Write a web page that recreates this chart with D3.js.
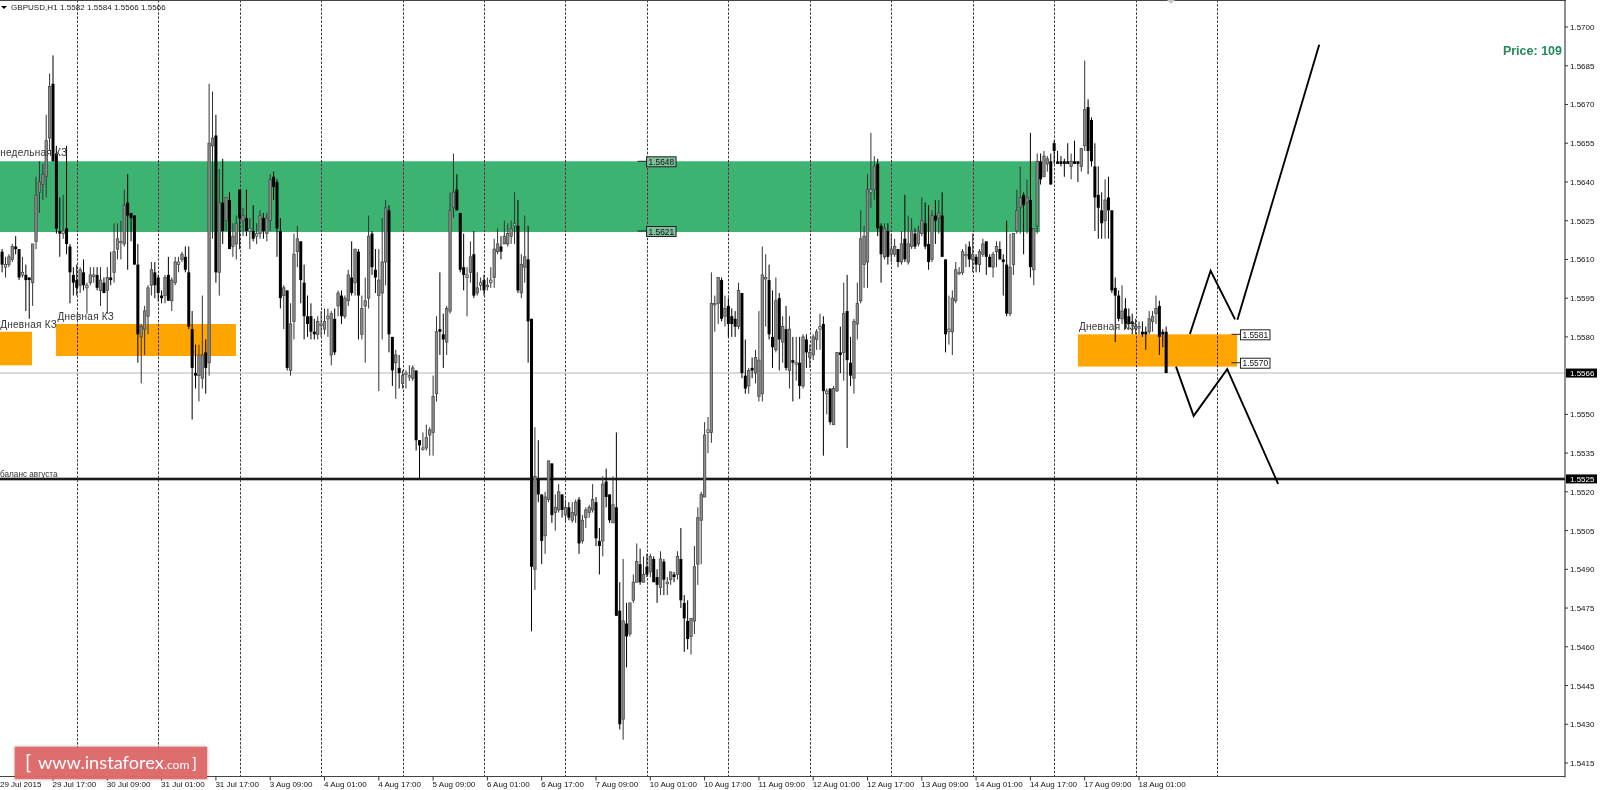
<!DOCTYPE html>
<html><head><meta charset="utf-8">
<script src="https://d3js.org/d3.v7.min.js"></script>
<style>html,body{margin:0;padding:0;background:#fff;overflow:hidden}svg{display:block}text{font-family:"Liberation Sans",Arial,sans-serif}</style>
</head><body><svg id="c" width="1600" height="790"></svg>
<script>
// GBPUSD H1 — rows are [open, high, low, close] in pips (price = 1 + v/10000)
const bars29Jul=[[5612,5613,5608,5611],[5613,5614,5605,5608],[5607,5611,5603,5608],[5608,5612,5607,5611],[5610,5616,5609,5615],[5615,5619,5612,5614],[5614,5614,5602,5603],[5604,5611,5603,5605],[5604,5608,5590,5602],[5603,5603,5587,5602],[5601,5616,5592,5616],[5617,5642,5614,5635],[5636,5648,5628,5640],[5639,5647,5633,5643],[5642,5666,5634,5656],[5657,5682,5652,5677],[5678,5689,5648,5648],[5651,5654,5620,5622],[5621,5634,5611,5620],[5620,5635,5618,5621],[5622,5654,5612,5616],[5615,5616,5593,5605],[5604,5607,5596,5601],[5602,5608,5596,5599]];
const bars30Jul=[[5600,5607,5597,5606],[5605,5610,5598,5600],[5599,5601,5589,5600],[5601,5607,5600,5604],[5604,5607,5601,5604],[5604,5607,5598,5599],[5598,5607,5592,5602],[5601,5603,5597,5597],[5598,5607,5589,5603],[5603,5613,5600,5602],[5605,5624,5601,5613],[5614,5624,5610,5618],[5617,5625,5610,5617],[5616,5637,5615,5631],[5632,5643,5606,5627],[5628,5628,5617,5626],[5627,5627,5608,5608],[5608,5616,5570,5581],[5580,5585,5562,5584],[5583,5592,5573,5590],[5588,5600,5581,5599],[5600,5609,5596,5606],[5605,5609,5595,5600],[5603,5604,5594,5597]];
const bars31Jul=[[5596,5598,5593,5595],[5596,5604,5593,5603],[5604,5611,5594,5594],[5594,5603,5590,5602],[5601,5611,5600,5609],[5608,5611,5605,5609],[5610,5613,5609,5612],[5611,5615,5605,5606],[5605,5615,5583,5584],[5583,5590,5548,5568],[5566,5577,5560,5565],[5565,5577,5555,5573],[5564,5596,5560,5573],[5574,5579,5558,5568],[5570,5678,5565,5655],[5654,5675,5618,5657],[5658,5666,5601,5605],[5605,5645,5596,5632],[5632,5649,5616,5621],[5625,5634,5621,5634],[5633,5636,5614,5614],[5615,5624,5611,5619],[5616,5627,5610,5624],[5637,5637,5614,5626]];
const bars3Aug=[[5625,5630,5619,5627],[5626,5637,5619,5621],[5621,5626,5614,5622],[5621,5631,5617,5618],[5619,5624,5616,5620],[5620,5629,5618,5627],[5626,5628,5618,5621],[5620,5628,5617,5626],[5625,5643,5621,5641],[5642,5644,5633,5638],[5640,5641,5611,5622],[5621,5626,5591,5595],[5596,5600,5583,5599],[5598,5598,5567,5568],[5567,5593,5565,5585],[5586,5620,5579,5612],[5613,5623,5607,5618],[5617,5617,5593,5602],[5601,5608,5579,5588],[5588,5596,5580,5585],[5588,5593,5579,5582],[5582,5587,5579,5581],[5581,5588,5579,5586],[5585,5590,5580,5585]];
const bars4Aug=[[5583,5591,5581,5586],[5587,5591,5580,5588],[5573,5590,5569,5589],[5587,5591,5573,5574],[5592,5598,5588,5597],[5596,5598,5585,5588],[5588,5596,5587,5595],[5594,5606,5592,5604],[5603,5617,5596,5597],[5601,5614,5596,5614],[5613,5614,5579,5596],[5581,5596,5579,5591],[5592,5603,5570,5594],[5595,5627,5591,5619],[5620,5621,5604,5607],[5606,5614,5597,5603],[5596,5614,5559,5602],[5597,5626,5579,5609],[5609,5633,5600,5630],[5629,5631,5574,5581],[5580,5580,5561,5567],[5570,5575,5556,5573],[5568,5573,5560,5566],[5562,5567,5560,5565]];
const bars5Aug=[[5566,5567,5560,5566],[5565,5569,5563,5565],[5564,5569,5563,5568],[5567,5567,5536,5540],[5540,5540,5525,5538],[5537,5543,5536,5537],[5537,5546,5536,5541],[5542,5545,5534,5544],[5543,5565,5534,5557],[5558,5588,5555,5582],[5583,5605,5573,5582],[5581,5589,5568,5579],[5578,5592,5573,5591],[5590,5636,5589,5629],[5630,5651,5626,5636],[5637,5643,5629,5629],[5628,5628,5605,5606],[5607,5620,5598,5604],[5603,5607,5588,5604],[5605,5617,5601,5611],[5612,5621,5595,5596],[5597,5605,5596,5599],[5600,5603,5598,5601],[5602,5604,5596,5598]];
const bars6Aug=[[5600,5603,5598,5600],[5601,5607,5599,5602],[5603,5618,5599,5614],[5613,5622,5612,5616],[5615,5619,5610,5613],[5616,5625,5616,5619],[5616,5624,5615,5620],[5619,5625,5616,5622],[5623,5636,5616,5624],[5623,5633,5597,5598],[5597,5612,5595,5608],[5607,5627,5601,5611],[5610,5623,5570,5586],[5587,5587,5466,5491],[5490,5545,5482,5526],[5525,5540,5516,5519],[5519,5519,5492,5501],[5503,5520,5496,5518],[5517,5532,5516,5532],[5531,5531,5508,5511],[5512,5519,5505,5514],[5513,5523,5512,5520],[5519,5519,5510,5513],[5511,5517,5508,5514]];
const bars7Aug=[[5514,5516,5509,5510],[5509,5516,5508,5512],[5511,5517,5508,5516],[5517,5518,5496,5500],[5501,5511,5500,5509],[5510,5514,5506,5513],[5512,5515,5510,5514],[5513,5523,5512,5517],[5516,5518,5499,5502],[5501,5506,5488,5499],[5501,5526,5495,5523],[5524,5529,5514,5518],[5519,5519,5508,5509],[5508,5526,5508,5515],[5514,5543,5472,5472],[5474,5485,5428,5430],[5432,5494,5424,5470],[5469,5477,5452,5464],[5465,5477,5464,5477],[5478,5488,5477,5485],[5485,5500,5485,5493],[5492,5498,5484,5485],[5485,5495,5485,5488],[5491,5496,5487,5488]];
const bars10Aug=[[5489,5496,5487,5495],[5494,5495,5485,5485],[5487,5490,5477,5484],[5483,5497,5480,5494],[5493,5494,5480,5486],[5485,5487,5480,5485],[5486,5489,5484,5489],[5488,5489,5485,5487],[5488,5497,5486,5495],[5494,5506,5475,5478],[5477,5480,5458,5471],[5470,5478,5459,5463],[5464,5471,5457,5471],[5470,5499,5465,5491],[5492,5514,5484,5510],[5509,5520,5492,5519],[5518,5547,5518,5542],[5543,5549,5535,5544],[5543,5605,5539,5593],[5593,5596,5582,5593],[5593,5603,5585,5603],[5602,5603,5586,5587],[5588,5596,5584,5591],[5592,5595,5580,5585]];
const bars11Aug=[[5588,5591,5580,5585],[5587,5590,5580,5584],[5584,5601,5583,5598],[5597,5597,5564,5566],[5565,5579,5558,5560],[5561,5568,5558,5567],[5568,5572,5564,5567],[5566,5575,5562,5572],[5557,5590,5555,5571],[5558,5615,5555,5604],[5603,5612,5584,5603],[5602,5608,5579,5581],[5580,5598,5568,5576],[5575,5603,5574,5594],[5595,5597,5567,5579],[5578,5588,5570,5584],[5583,5592,5567,5568],[5567,5588,5560,5583],[5571,5580,5555,5570],[5570,5580,5563,5570],[5570,5580,5556,5561],[5561,5581,5560,5580],[5579,5581,5568,5574],[5572,5577,5568,5574]];
const bars12Aug=[[5573,5581,5571,5580],[5579,5583,5575,5582],[5583,5589,5575,5584],[5585,5588,5534,5559],[5558,5560,5550,5559],[5560,5560,5546,5547],[5546,5561,5546,5560],[5559,5574,5559,5574],[5574,5584,5566,5573],[5574,5601,5563,5589],[5590,5604,5537,5571],[5570,5580,5561,5565],[5564,5587,5558,5586],[5585,5601,5579,5593],[5594,5629,5593,5618],[5608,5623,5599,5619],[5609,5643,5599,5637],[5636,5659,5630,5637],[5637,5650,5633,5646],[5647,5649,5619,5622],[5623,5624,5601,5612],[5611,5624,5610,5622],[5621,5624,5608,5611],[5612,5620,5609,5614]];
const bars13Aug=[[5612,5618,5611,5615],[5614,5614,5607,5609],[5609,5621,5608,5616],[5618,5635,5609,5610],[5609,5627,5608,5616],[5615,5626,5614,5621],[5620,5622,5614,5615],[5616,5623,5615,5621],[5620,5634,5619,5625],[5624,5632,5614,5615],[5616,5631,5606,5609],[5610,5629,5609,5627],[5627,5633,5616,5625],[5626,5633,5620,5628],[5627,5636,5611,5611],[5610,5610,5574,5581],[5582,5596,5577,5583],[5582,5598,5573,5595],[5594,5609,5593,5606],[5605,5607,5604,5605],[5605,5614,5604,5613],[5612,5616,5607,5612],[5615,5617,5607,5610],[5610,5620,5605,5612]];
const bars14Aug=[[5611,5612,5605,5608],[5608,5614,5605,5613],[5612,5618,5611,5616],[5617,5617,5604,5611],[5611,5612,5607,5607],[5607,5613,5603,5612],[5613,5617,5607,5615],[5614,5617,5610,5610],[5610,5612,5596,5609],[5608,5625,5588,5589],[5589,5620,5588,5607],[5608,5620,5604,5620],[5621,5637,5620,5629],[5630,5646,5620,5634],[5635,5636,5612,5631],[5632,5641,5620,5634],[5633,5659,5603,5607],[5606,5622,5600,5622],[5623,5651,5620,5648],[5648,5651,5639,5641],[5642,5652,5642,5650],[5647,5650,5644,5649],[5648,5651,5639,5639],[5655,5656,5647,5652]];
const bars17Aug=[[5648,5652,5647,5647],[5648,5650,5646,5647],[5648,5649,5642,5647],[5648,5655,5647,5647],[5646,5651,5641,5648],[5648,5656,5647,5647],[5648,5648,5640,5647],[5646,5653,5644,5653],[5654,5687,5652,5668],[5669,5672,5643,5652],[5664,5665,5646,5648],[5646,5655,5621,5634],[5635,5646,5618,5630],[5629,5636,5618,5624],[5625,5641,5618,5633],[5634,5642,5618,5629],[5629,5629,5597,5598],[5599,5603,5578,5596],[5596,5598,5586,5587],[5587,5600,5585,5590],[5591,5595,5583,5585],[5588,5591,5583,5585],[5586,5589,5581,5585],[5584,5587,5581,5584]];
const bars18Aug=[[5584,5586,5581,5584],[5582,5586,5580,5581],[5582,5584,5575,5581],[5582,5590,5581,5587],[5586,5590,5582,5588],[5589,5596,5585,5591],[5592,5594,5573,5580],[5582,5583,5576,5581],[5582,5584,5566,5566]];

const priceTicks=[5700,5685,5670,5655,5640,5625,5610,5595,5580,5550,5535,5520,5505,5490,5475,5460,5445,5430,5415];
const timeLabels=["29 Jul 2015","29 Jul 17:00","30 Jul 09:00","31 Jul 01:00","31 Jul 17:00","3 Aug 09:00","4 Aug 01:00","4 Aug 17:00","5 Aug 09:00","6 Aug 01:00","6 Aug 17:00","7 Aug 09:00","10 Aug 01:00","10 Aug 17:00","11 Aug 09:00","12 Aug 01:00","12 Aug 17:00","13 Aug 09:00","14 Aug 01:00","14 Aug 17:00","17 Aug 09:00","18 Aug 01:00"];
const separatorBars=[23,47,71,95,119,143,167,191,215,239,263,287,311,335,359];
const greenZone=[-1,306.8,5648,5620.6];
const orangeZones=[[-1,9.8,5582,5569],[16.9,69.9,5585,5572.6],[318,364.9,5581,5568.5]];
const zoneTags=[[190.9,5648,"1.5648"],[190.9,5621,"1.5621"],[365.9,5581,"1.5581"],[365.9,5570,"1.5570"]];
const zoneTexts=[[0.45,5650,"недельная КЗ"],[0.45,5583.5,"Дневная КЗ"],[17.3,5586.6,"Дневная КЗ"],[318.3,5582.7,"Дневная КЗ"]];
const forecastUpA=[[351,5581.1],[357.1,5605.6],[364.3,5586.8]];
const forecastUpB=[[365,5586.6],[389.1,5693.1]];
const forecastDown=[[346.9,5568.5],[352.1,5549.4],[362,5567.5],[377,5523.1]];
const bidPrice=5566, balancePrice=5525;

const bars=[].concat(bars29Jul,bars30Jul,bars31Jul,bars3Aug,bars4Aug,bars5Aug,bars6Aug,bars7Aug,bars10Aug,bars11Aug,bars12Aug,bars13Aug,bars14Aug,bars17Aug,bars18Aug);

const svg=d3.select("#c");
const W=1565,H=776.5;
const x=d3.scaleLinear().domain([0,16]).range([-1.3,53]);
const y=d3.scaleLinear().domain([5700,5415]).range([27,763]);
svg.append("rect").attr("width",1600).attr("height",790).attr("fill","#fff");
const plot=svg.append("g");

// zones (background objects)
plot.append("rect").attr("x",Math.max(0,x(greenZone[0]))).attr("width",x(greenZone[1])-Math.max(0,x(greenZone[0])))
  .attr("y",y(greenZone[2])).attr("height",y(greenZone[3])-y(greenZone[2])).attr("fill","#3cb371");
plot.selectAll("rect.o").data(orangeZones).join("rect").attr("class","o")
  .attr("x",d=>Math.max(0,x(d[0]))).attr("width",d=>x(d[1])-Math.max(0,x(d[0])))
  .attr("y",d=>y(d[2])).attr("height",d=>y(d[3])-y(d[2])).attr("fill","#ffa500");

// period separators, inverted against what lies beneath
plot.selectAll("line.s").data(separatorBars).join("line").attr("class","s")
  .attr("x1",d=>Math.round(x(d))+.5).attr("x2",d=>Math.round(x(d))+.5).attr("y1",0).attr("y2",H)
  .attr("stroke","#c4c4c4").attr("stroke-dasharray","2.5,1.6").style("mix-blend-mode","difference");

// price lines
plot.append("line").attr("x1",0).attr("x2",W).attr("y1",y(bidPrice)).attr("y2",y(bidPrice)).attr("stroke","#cfcfcf").attr("stroke-width",1.4);
plot.append("line").attr("x1",0).attr("x2",W).attr("y1",y(balancePrice)).attr("y2",y(balancePrice)).attr("stroke","#6e6e6e").attr("stroke-width",3);
plot.append("line").attr("x1",0).attr("x2",W).attr("y1",y(balancePrice)).attr("y2",y(balancePrice)).attr("stroke","#000").attr("stroke-width",1.5);

// candles
const g=plot.append("g");
bars.forEach((b,i)=>{
  const [o,h,l,c]=b, up=c>=o, cx=x(i);
  const top=y(Math.max(o,c)), bot=y(Math.min(o,c));
  g.append("line").attr("x1",cx).attr("x2",cx).attr("y1",y(h)).attr("y2",y(l)).attr("stroke",up?"#333":"#000").attr("stroke-width",1);
  if(up){
    g.append("rect").attr("x",cx-1.2).attr("width",2.4).attr("y",top).attr("height",Math.max(bot-top,1.5))
     .attr("fill",bot-top<5?"#d0d0d0":"#8c8c8c").attr("stroke","#4a4a4a").attr("stroke-width",.8);
  }else{
    g.append("rect").attr("x",cx-1.5).attr("width",3).attr("y",top).attr("height",Math.max(bot-top,1.2)).attr("fill","#000");
  }
});

// forecast path
const path=d3.line().x(d=>x(d[0])).y(d=>y(d[1]));
[forecastUpA,forecastUpB,forecastDown].forEach(p=>plot.append("path").attr("d",path(p)).attr("fill","none").attr("stroke","#000").attr("stroke-width",1.9));

// zone price tags
zoneTags.forEach(t=>{
  const bx=x(t[0]), by=y(t[1]);
  const onGreen=t[0]<300;
  plot.append("line").attr("x1",bx-9).attr("x2",bx).attr("y1",by).attr("y2",by).attr("stroke","#222");
  plot.append("rect").attr("x",bx).attr("y",by-4.5).attr("width",29.5).attr("height",10).attr("fill",onGreen?"#7fbf9c":"#fff").attr("stroke","#222").attr("stroke-width",1);
  plot.append("text").attr("x",bx+2).attr("y",by+3.7).attr("font-size",8.4).attr("fill","#111").text(t[2]);
});

// object captions
plot.selectAll("text.z").data(zoneTexts).join("text").attr("class","z").attr("x",d=>x(d[0])).attr("y",d=>y(d[1]))
  .attr("font-size",10).attr("fill","#333").attr("letter-spacing",".25").text(d=>d[2]);
plot.append("text").attr("x",0).attr("y",y(balancePrice)-2).attr("font-size",8.2).attr("fill","#333").text("баланс августа");

// frame & axes
const axisG=svg.append("g");
axisG.append("line").attr("x1",0).attr("x2",W+1).attr("y1",.5).attr("y2",.5).attr("stroke","#444");
axisG.append("line").attr("x1",W).attr("x2",W).attr("y1",0).attr("y2",H+1).attr("stroke","#444").attr("stroke-width",1.2);
axisG.append("line").attr("x1",0).attr("x2",W).attr("y1",H).attr("y2",H).attr("stroke","#444").attr("stroke-width",1.2);
priceTicks.forEach(p=>{
  axisG.append("line").attr("x1",W).attr("x2",W+3).attr("y1",y(p)).attr("y2",y(p)).attr("stroke","#333");
  axisG.append("text").attr("x",W+5).attr("y",y(p)+3).attr("font-size",8).attr("fill","#111").text("1."+p);
});
timeLabels.forEach((t,k)=>{
  const tx=x(k*16);
  axisG.append("line").attr("x1",tx).attr("x2",tx).attr("y1",H).attr("y2",H+4).attr("stroke","#333");
  axisG.append("text").attr("x",Math.max(0,tx-.5)).attr("y",787).attr("font-size",8).attr("fill","#111").text(t);
});
[bidPrice,balancePrice].forEach(p=>{
  axisG.append("rect").attr("x",W+1).attr("y",y(p)-4.5).attr("width",31).attr("height",9).attr("fill","#000");
  axisG.append("text").attr("x",W+5).attr("y",y(p)+3).attr("font-size",8).attr("fill","#fff").text("1."+p);
});

// header
axisG.append("path").attr("d",d3.line()([[1,6],[7,6],[4,9]])+"Z").attr("fill","#000");
axisG.append("text").attr("x",11).attr("y",10).attr("font-size",8).attr("fill","#222").attr("letter-spacing",".05").text("GBPUSD,H1  1.5582 1.5584 1.5566 1.5566");
axisG.append("path").attr("d",d3.line()([[1167,0],[1175,0],[1171,4]])+"Z").attr("fill","#c4c4c4");
axisG.append("text").attr("x",1562).attr("y",55).attr("text-anchor","end").attr("font-size",12.5).attr("font-weight","bold").attr("fill","#23895a").text("Price: 109");

// watermark
const wm=svg.append("g");
const df=svg.append("defs").append("filter").attr("id","sh").attr("x","-5%").attr("y","-15%").attr("width","110%").attr("height","130%");
df.append("feDropShadow").attr("dx",0).attr("dy",0).attr("stdDeviation",1.4).attr("flood-color","#000").attr("flood-opacity",.35);
wm.append("rect").attr("x",14.7).attr("y",746.7).attr("width",192.5).attr("height",32.5).attr("fill","#df6a6b").attr("fill-opacity",.96).attr("filter","url(#sh)");
const logoPart=(tx,size,txt)=>wm.append("text").attr("x",tx).attr("y",769).attr("fill","#fff").attr("font-size",size)
    .style("font-family","Lato,sans-serif").text(txt);
logoPart(25,20,"[");
logoPart(38,18.2,"www.instaforex");
logoPart(164,12.2,".com");
logoPart(192,16,"]");
</script></body></html>
